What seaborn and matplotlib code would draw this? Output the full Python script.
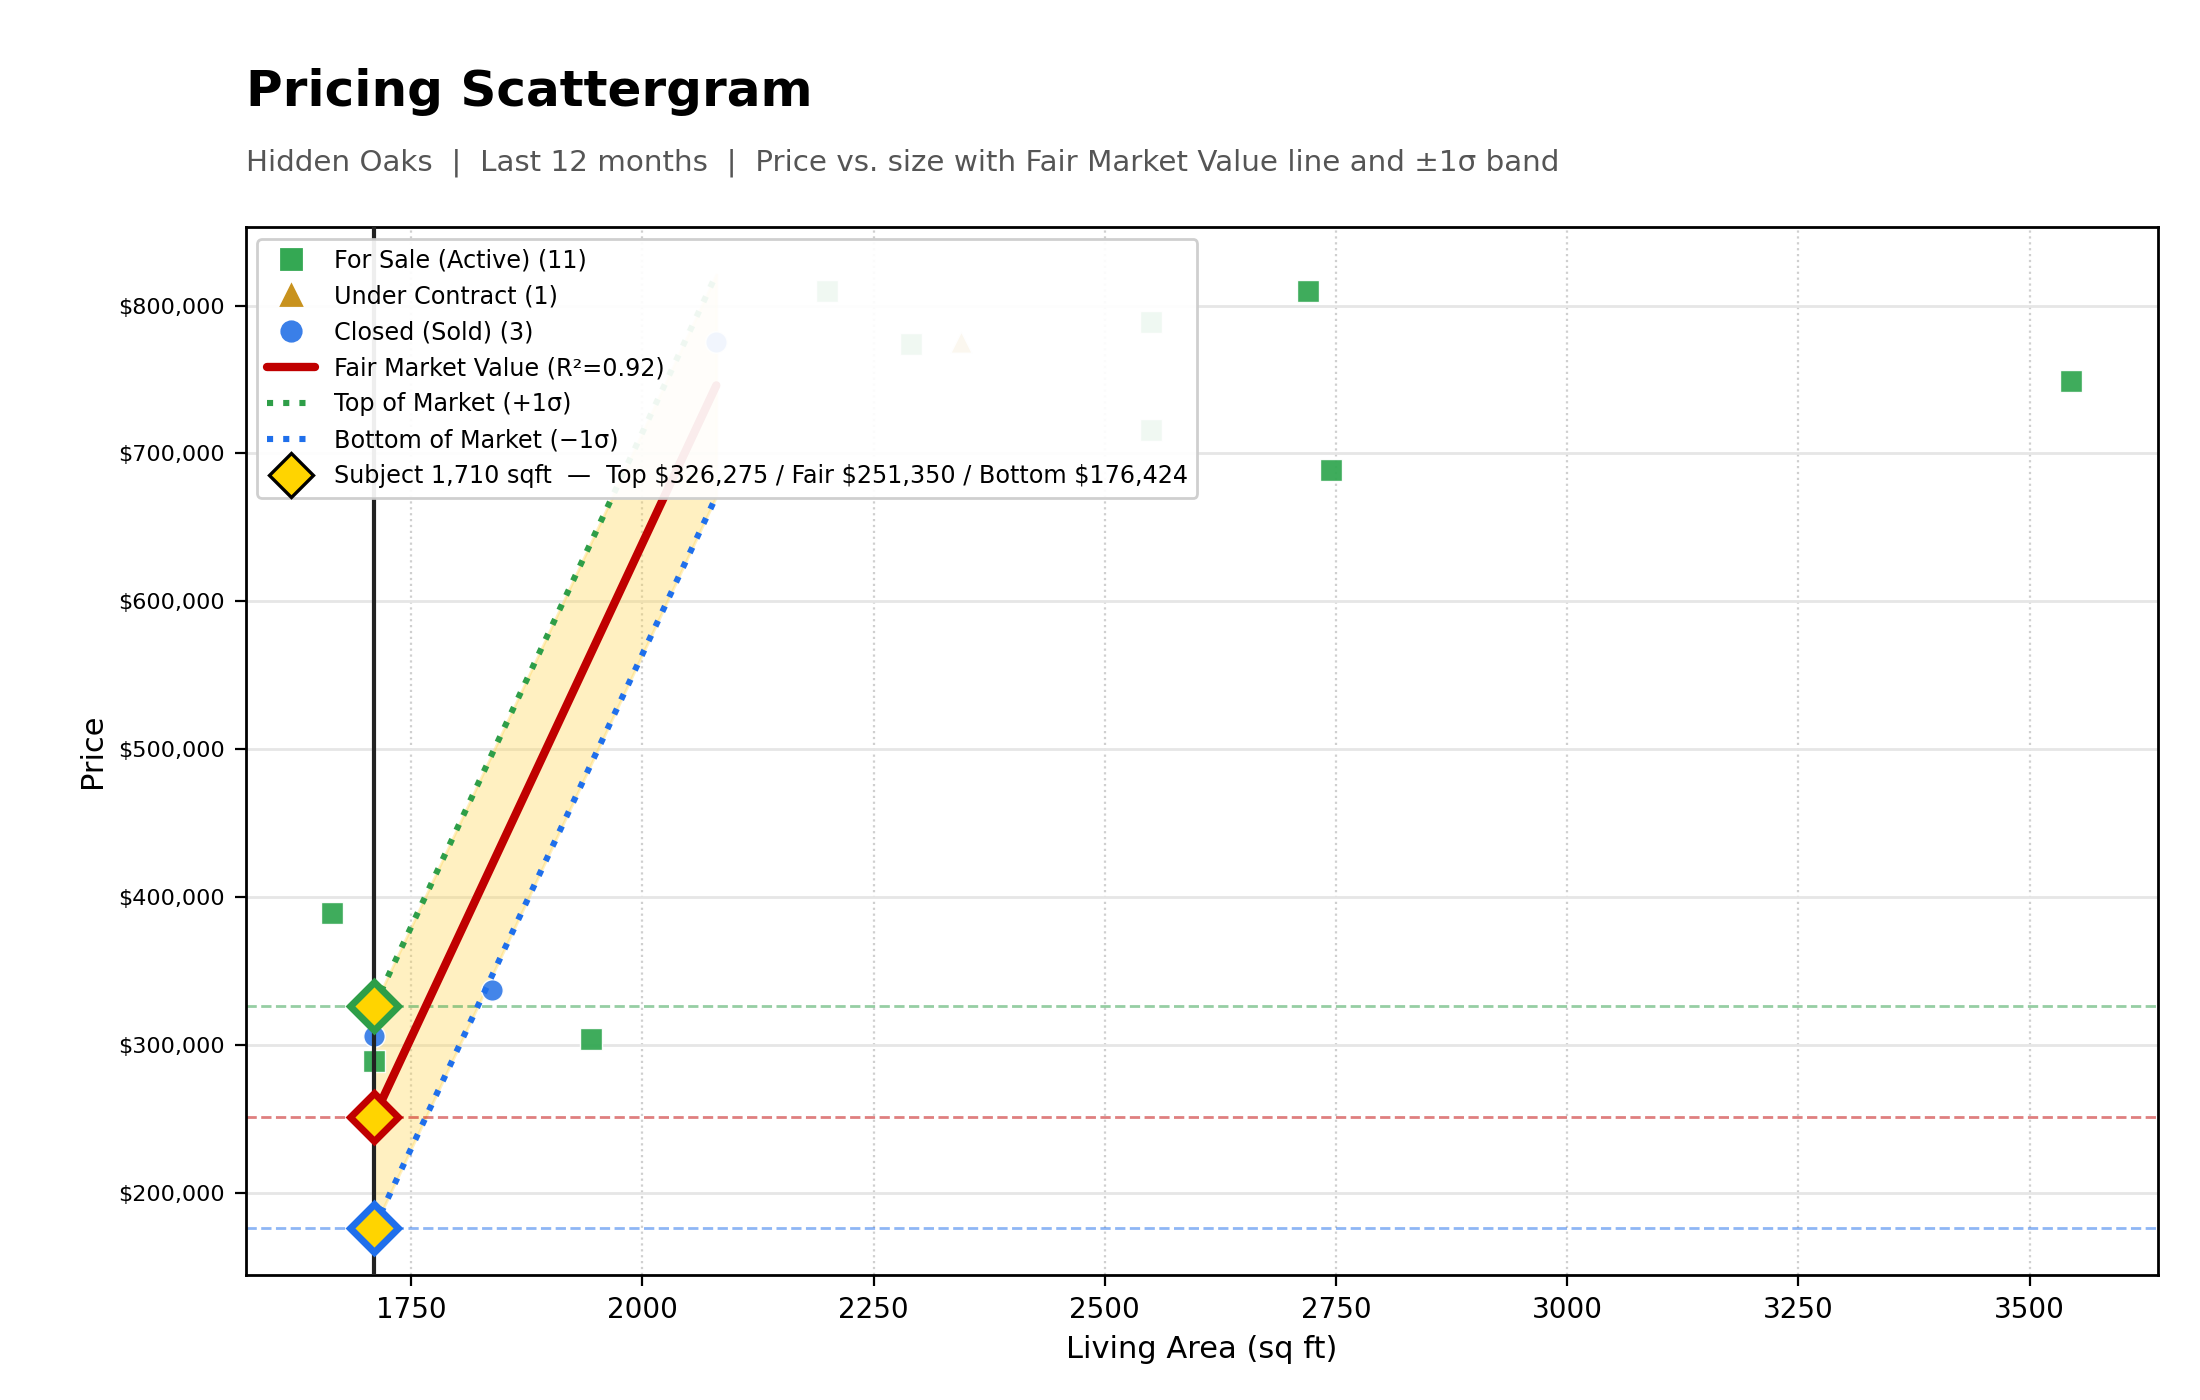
import matplotlib
matplotlib.use("Agg")
import matplotlib.pyplot as plt
from matplotlib.lines import Line2D
from matplotlib.ticker import FuncFormatter
import seaborn as sns

# listings (sqft, price)
active_sqft = [1665, 1710, 1945, 2200, 2290, 2550, 2550, 2550, 2720, 2745, 3545]
active_price = [389000, 289000, 304000, 810000, 774000, 789000, 789000, 716000, 810000, 689000, 749000]
contract_sqft = [2345]
contract_price = [775000]
sold_sqft = [1710, 1838, 2080]
sold_price = [306000, 337000, 775000]

# fair value line and +/-1 sigma band (ends of the fitted segment)
fit_sqft = [1710, 2080]
fair_price = [251350, 746000]
top_price = [326275, 821000]
bottom_price = [176424, 671000]

subject_sqft = 1710
subject_top = 326275
subject_fair = 251350
subject_bottom = 176424
r2 = 0.92

GREEN = "#34A853"
GOLD = "#C8921E"
BLUE = "#3A7FE8"
RED = "#C00000"
TOP_C = "#2E9E48"
BOT_C = "#1F6FEB"
YELLOW = "#FFD400"

sns.set_style("white")
plt.rcParams["font.family"] = ["DejaVu Sans"]
plt.rcParams["text.color"] = "black"
plt.rcParams["axes.labelcolor"] = "black"
plt.rcParams["xtick.color"] = "black"
plt.rcParams["ytick.color"] = "black"

fig, ax = plt.subplots(figsize=(11, 7), dpi=200)
fig.subplots_adjust(left=0.1116, right=0.981, top=0.838, bottom=0.089)

ax.fill_between(fit_sqft, bottom_price, top_price, color="#FFD54F", alpha=0.35,
                linewidth=1, zorder=1)

sns.scatterplot(x=active_sqft, y=active_price, marker="s", color=GREEN, s=60,
                edgecolor="white", linewidth=0.5, alpha=0.95, ax=ax, zorder=3)
sns.scatterplot(x=contract_sqft, y=contract_price, marker="^", color=GOLD, s=60,
                edgecolor="white", linewidth=0.5, alpha=0.95, ax=ax, zorder=3)
sns.scatterplot(x=sold_sqft, y=sold_price, marker="o", color=BLUE, s=60,
                edgecolor="white", linewidth=0.5, alpha=0.95, ax=ax, zorder=3)

sns.lineplot(x=fit_sqft, y=fair_price, color=RED, linewidth=3, ax=ax, zorder=4, sort=False)
sns.lineplot(x=fit_sqft, y=top_price, color=TOP_C, linewidth=2.2, linestyle=":", ax=ax,
             zorder=4, sort=False)
sns.lineplot(x=fit_sqft, y=bottom_price, color=BOT_C, linewidth=2.2, linestyle=":", ax=ax,
             zorder=4, sort=False)

ax.axvline(subject_sqft, color="#222222", linewidth=1.5, zorder=5)
ax.axhline(subject_top, color=TOP_C, linestyle="--", linewidth=1, alpha=0.5, zorder=2)
ax.axhline(subject_fair, color=RED, linestyle="--", linewidth=1, alpha=0.5, zorder=2)
ax.axhline(subject_bottom, color=BOT_C, linestyle="--", linewidth=1, alpha=0.5, zorder=2)

for val, edge in [(subject_top, TOP_C), (subject_fair, RED), (subject_bottom, BOT_C)]:
    ax.plot([subject_sqft], [val], marker="D", markersize=12, markerfacecolor=YELLOW,
            markeredgecolor=edge, markeredgewidth=2.5, zorder=6, linestyle="none")

ax.yaxis.set_major_formatter(FuncFormatter(lambda v, p: f"${v:,.0f}"))
ax.tick_params(axis="y", labelsize=8, length=4, left=True)
ax.tick_params(axis="x", labelsize=10, length=4, bottom=True)
ax.grid(axis="y", color="#e6e6e6", linewidth=1, linestyle="-")
ax.grid(axis="x", color="#cfcfcf", linewidth=0.8, linestyle=":")
ax.set_axisbelow(True)
for sp in ax.spines.values():
    sp.set_color("black")
    sp.set_linewidth(1)

ax.set_xlabel("Living Area (sq ft)", fontsize=11)
ax.set_ylabel("Price", fontsize=11)

handles = [
    Line2D([], [], marker="s", color=GREEN, linestyle="none", markersize=7),
    Line2D([], [], marker="^", color=GOLD, linestyle="none", markersize=7),
    Line2D([], [], marker="o", color=BLUE, linestyle="none", markersize=7),
    Line2D([], [], color=RED, linewidth=3),
    Line2D([], [], color=TOP_C, linewidth=2.2, linestyle=":"),
    Line2D([], [], color=BOT_C, linewidth=2.2, linestyle=":"),
    Line2D([], [], marker="D", markersize=11, markerfacecolor=YELLOW,
           markeredgecolor="black", markeredgewidth=1.2, linestyle="none"),
]
labels = [
    f"For Sale (Active) ({len(active_sqft)})",
    f"Under Contract ({len(contract_sqft)})",
    f"Closed (Sold) ({len(sold_sqft)})",
    f"Fair Market Value (R\u00b2={r2:.2f})",
    "Top of Market (+1\u03c3)",
    "Bottom of Market (\u22121\u03c3)",
    f"Subject {subject_sqft:,} sqft  \u2014  Top ${subject_top:,} / Fair ${subject_fair:,} / Bottom ${subject_bottom:,}",
]
leg = ax.legend(handles, labels, loc="upper left", fontsize=8.6, frameon=True,
                framealpha=0.93, edgecolor="#cccccc")
leg.set_zorder(10)

fig.text(0.1116, 0.934, "Pricing Scattergram", fontsize=18, fontweight="bold", va="center")
fig.text(0.1116, 0.884,
         "Hidden Oaks  |  Last 12 months  |  Price vs. size with Fair Market Value line and \u00b11\u03c3 band",
         fontsize=10.6, color="#555555", va="center")

fig.savefig("out.png", dpi=200)
